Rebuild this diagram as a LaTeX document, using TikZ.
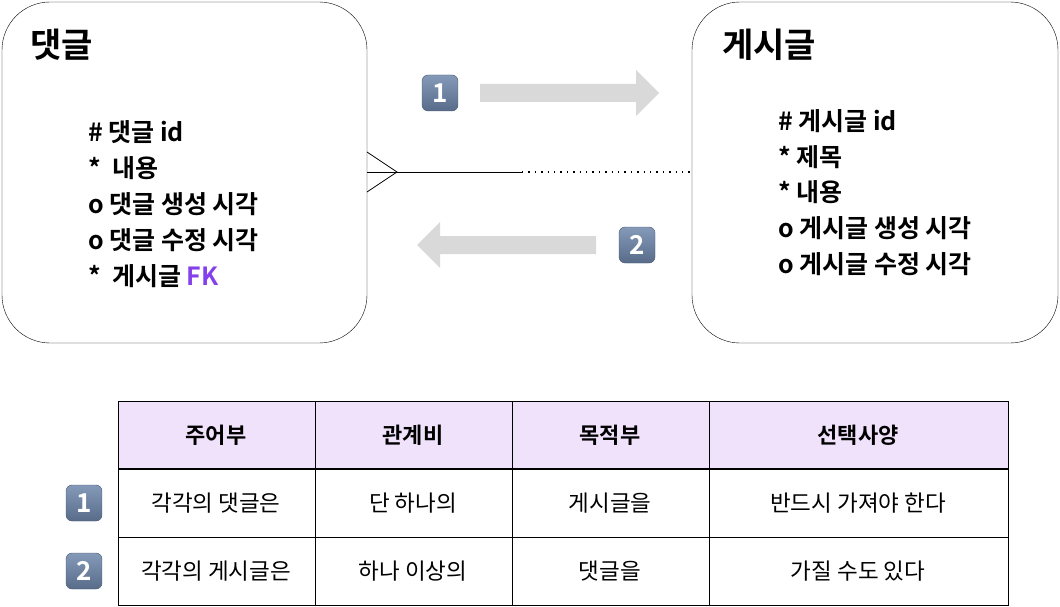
\documentclass[tikz,border=0pt]{standalone}
\usepackage{fontspec}
\setmainfont{Noto Sans CJK KR}[BoldFont={* Bold}]
\usetikzlibrary{positioning}
\definecolor{bandgray}{RGB}{217,217,217}
\definecolor{headlav}{RGB}{241,226,251}
\definecolor{fkpurple}{RGB}{132,64,235}
\definecolor{badgetop}{RGB}{132,154,184}
\definecolor{badgebot}{RGB}{88,108,138}

\begin{document}
\begin{tikzpicture}[x=1pt, y=-1pt,
        entity/.style={draw=black, rounded corners=48pt},
        attr/.style={anchor=west, font=\fontsize{25}{27}\selectfont\bfseries, inner sep=0pt},
        title/.style={anchor=west, font=\fontsize{34}{36}\selectfont\bfseries, inner sep=0pt},
        badge/.style={rounded corners=6pt, top color=badgetop, bottom color=badgebot, draw=badgebot!80!black, minimum size=36pt, inner sep=0pt, text=white, font=\fontsize{26}{26}\selectfont\bfseries},
        band/.style={fill=bandgray, draw=none},
        cell/.style={font=\fontsize{22.5}{24}\selectfont},
        hcell/.style={font=\fontsize{22}{24}\selectfont\bfseries}]
        \useasboundingbox (0,0) rectangle (1060,607);

        % Entities
        \draw[entity] (2,2) rectangle (367,343);
        \draw[entity] (692,2) rectangle (1058,343);
        \node[title] (cmt) at (30,45) {댓글};
        \node[title] (post) at (722,45) {게시글};

        \node[attr] (c1) at (88,132) {\# 댓글 id};
        \node[attr] (c2) at (88,168) {*\ \ 내용};
        \node[attr] (c3) at (88,204) {o 댓글 생성 시각};
        \node[attr] (c4) at (88,240) {o 댓글 수정 시각};
        \node[attr] (c5) at (88,276) {*\ \ 게시글 \textcolor{fkpurple}{FK}};

        \node[attr] (p1) at (778,121) {\# 게시글 id};
        \node[attr] (p2) at (778,157) {* 제목};
        \node[attr] (p3) at (778,192) {* 내용};
        \node[attr] (p4) at (778,228) {o 게시글 생성 시각};
        \node[attr] (p5) at (778,264) {o 게시글 수정 시각};

        % Relationship
        \coordinate (crow) at (367,172);
        \coordinate (tip) at (397,172);
        \coordinate (mid) at (522,172);
        \coordinate (end) at (690,172);
        \draw[thick] (367,152) -- (tip) -- (367,192);
        \draw[thick] (crow) -- (mid);
        \draw[line width=1.4pt, dash pattern=on 1.4pt off 5pt] (mid) -- (end);

        % Direction arrows
        \fill[band] (480,84) -- (636,84) -- (636,70) -- (659,93) -- (636,116) -- (636,102) -- (480,102) -- cycle;
        \fill[band] (596,236) -- (440,236) -- (440,222) -- (417,245) -- (440,268) -- (440,254) -- (596,254) -- cycle;
        \node[badge] (b1) at (440,93) {1};
        \node[badge] (b2) at (637,245) {2};

        % Table
        \fill[headlav] (118,401) rectangle (1008,469);
        \draw (118,401) rectangle (1008,605);
        \foreach \x in {315,512,709}
            \draw (\x,401) -- (\x,605);
        \draw[line width=1.6pt] (118,469) -- (1008,469);
        \draw (118,537) -- (1008,537);

        \node[hcell] (h1) at (216,435) {주어부};
        \node[hcell] (h2) at (413,435) {관계비};
        \node[hcell] (h3) at (610,435) {목적부};
        \node[hcell] (h4) at (858,435) {선택사양};

        \node[cell] (r11) at (216,503) {각각의 댓글은};
        \node[cell] (r12) at (413,503) {단 하나의};
        \node[cell] (r13) at (610,503) {게시글을};
        \node[cell] (r14) at (858,503) {반드시 가져야 한다};

        \node[cell] (r21) at (216,571) {각각의 게시글은};
        \node[cell] (r22) at (413,571) {하나 이상의};
        \node[cell] (r23) at (610,571) {댓글을};
        \node[cell] (r24) at (858,571) {가질 수도 있다};

        \node[badge] (t1) at (84,503) {1};
        \node[badge] (t2) at (84,571) {2};
    \end{tikzpicture}
\end{document}
